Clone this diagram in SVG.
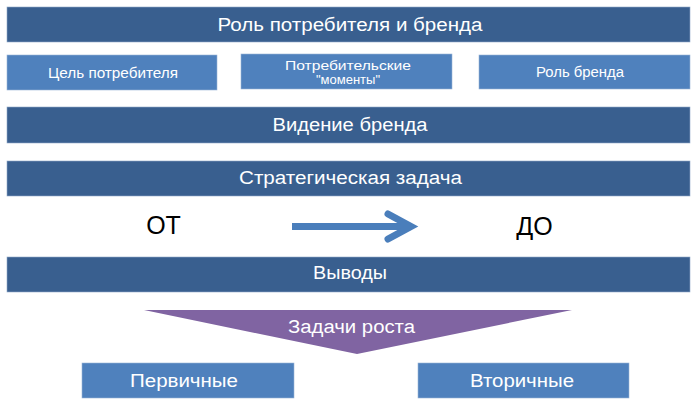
<svg xmlns="http://www.w3.org/2000/svg" width="700" height="403" viewBox="0 0 700 403">
<style>
.dark{fill:#395f8f;stroke:#8fa8c8;stroke-width:0.6}
.light{fill:#4f81bd;stroke:#9ab5d8;stroke-width:0.6}
.tw{fill:#ffffff;font-family:"Liberation Sans",Arial,sans-serif;text-anchor:middle}
.big{font-size:18px}
.small{font-size:14px}
.xs{font-size:13px}
.mid{font-size:18px}
.tb{fill:#000000;font-family:"Liberation Sans",Arial,sans-serif;font-size:25px;text-anchor:middle}
</style>
<rect width="700" height="403" fill="#ffffff"/>
<g id="role">
<rect class="dark" x="7" y="7" width="683" height="35"/>
<text class="tw big" x="350" y="31" textLength="265" lengthAdjust="spacingAndGlyphs">Роль потребителя и бренда</text>
</g>
<g id="goal">
<rect class="light" x="7" y="55" width="210" height="35"/>
<text class="tw small" x="113" y="78" textLength="130" lengthAdjust="spacingAndGlyphs">Цель потребителя</text>
</g>
<g id="moments">
<rect class="light" x="241" y="54" width="211" height="35"/>
<text class="tw xs" x="348" y="70" textLength="126" lengthAdjust="spacingAndGlyphs">Потребительские</text>
<text class="tw xs" x="348" y="84">"моменты"</text>
</g>
<g id="brandrole">
<rect class="light" x="479" y="55" width="211" height="34"/>
<text class="tw small" x="580" y="77" textLength="88" lengthAdjust="spacingAndGlyphs">Роль бренда</text>
</g>
<g id="vision">
<rect class="dark" x="7" y="107" width="683" height="36"/>
<text class="tw mid" x="350" y="131" textLength="155" lengthAdjust="spacingAndGlyphs">Видение бренда</text>
</g>
<g id="strategic">
<rect class="dark" x="7" y="161" width="683" height="35"/>
<text class="tw mid" x="350.5" y="184" textLength="223" lengthAdjust="spacingAndGlyphs">Стратегическая задача</text>
</g>
<g id="from">
<text class="tb" x="163.5" y="234">ОТ</text>
</g>
<g id="to">
<text class="tb" x="534.5" y="235">ДО</text>
</g>
<g id="connectors">
<line x1="292" y1="226.5" x2="410" y2="226.5" stroke="#4a7ebb" stroke-width="7"/>
<polyline points="388,214 411,226.5 388,239" fill="none" stroke="#4a7ebb" stroke-width="7" stroke-linecap="round" stroke-linejoin="miter"/>
</g>
<g id="conclusions">
<rect class="dark" x="7" y="257" width="683" height="35"/>
<text class="tw mid" x="350" y="279" textLength="74" lengthAdjust="spacingAndGlyphs">Выводы</text>
</g>
<g id="growth">
<polygon points="144,310 572,310 357,354" fill="#8064a2"/>
<text class="tw mid" x="351.5" y="333" textLength="127" lengthAdjust="spacingAndGlyphs">Задачи роста</text>
</g>
<g id="primary">
<rect class="light" x="82" y="363" width="212" height="35"/>
<text class="tw mid" x="184" y="387" textLength="108" lengthAdjust="spacingAndGlyphs">Первичные</text>
</g>
<g id="secondary">
<rect class="light" x="418" y="363" width="211" height="35"/>
<text class="tw mid" x="522" y="387" textLength="104" lengthAdjust="spacingAndGlyphs">Вторичные</text>
</g>
</svg>
